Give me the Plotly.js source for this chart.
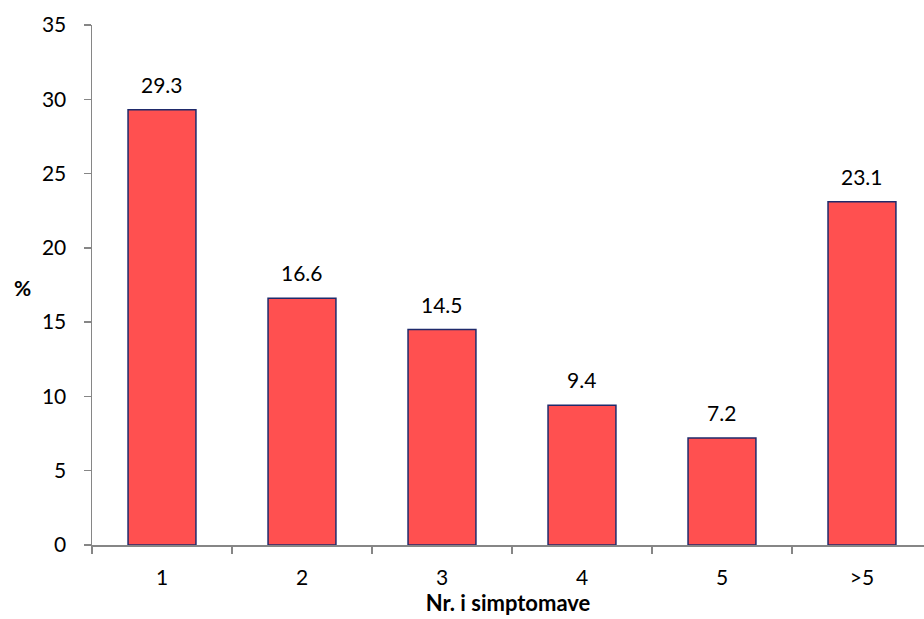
<!DOCTYPE html>
<html><head><meta charset="utf-8">
<script src="https://cdn.plot.ly/plotly-3.0.1.min.js"></script>
<style>html,body{margin:0;padding:0;background:#fff;}#chart{width:924px;height:619px;}</style>
</head><body><div id="chart"></div>
<script>
const categories = ["1", "2", "3", "4", "5", ">5"];
const values = [29.3, 16.6, 14.5, 9.4, 7.2, 23.1];
const valueLabels = ["29.3", "16.6", "14.5", "9.4", "7.2", "23.1"];
const yTicks = [0, 5, 10, 15, 20, 25, 30, 35];
const xTitle = "Nr. i simptomave";
const yTitle = "%";

const font = "Lato, 'Open Sans', sans-serif";
const trace = {
  type: "bar",
  x: categories,
  y: values,
  marker: {color: "#FF5050", line: {color: "#1F2A6B", width: 1.5}},
  width: 0.485,
  hoverinfo: "none"
};
// on a category axis, annotation x is the category index
const annotations = categories.map((c, i) => ({
  x: i, y: values[i], xref: "x", yref: "y",
  text: valueLabels[i], showarrow: false,
  yanchor: "bottom", yshift: 11,
  font: {family: font, size: 21, color: "#000"}
}));
// upright y-axis title
annotations.push({
  x: 22, y: 287, xref: "paper", yref: "paper",
  text: "<b>" + yTitle + "</b>", showarrow: false,
  xanchor: "center", yanchor: "middle",
  font: {family: font, size: 21, color: "#000"}
});
annotations[annotations.length - 1].xref = "paper";
const layout = {
  width: 924, height: 619,
  margin: {l: 92, r: 0, t: 25, b: 74},
  paper_bgcolor: "#fff", plot_bgcolor: "#fff",
  showlegend: false,
  font: {family: font, size: 21, color: "#000"},
  annotations: annotations,
  xaxis: {
    type: "category",
    range: [-0.5, 5.443],
    showline: true, linecolor: "#868686", linewidth: 1.5,
    ticks: "outside", ticklen: 7, tickcolor: "#868686", tickwidth: 1.5,
    tickson: "boundaries",
    ticklabelstandoff: 13,
    showgrid: false, zeroline: false,
    tickfont: {family: font, size: 21, color: "#000"},
    title: {text: "<b>" + xTitle + "</b>", font: {family: font, size: 22, color: "#000"}, standoff: 6}
  },
  yaxis: {
    range: [0, 35],
    tickvals: yTicks,
    showline: true, linecolor: "#868686", linewidth: 1.5,
    ticks: "outside", ticklen: 7, tickcolor: "#868686", tickwidth: 1.5,
    ticklabelstandoff: 13,
    showgrid: false, zeroline: false,
    tickfont: {family: font, size: 21, color: "#000"}
  }
};
// convert pixel position of the y title into paper coordinates
const pw = 924 - 92, ph = 619 - 25 - 74;
const yt = annotations[annotations.length - 1];
yt.x = (22 - 92) / pw;
yt.y = (619 - 74 - 287) / ph;
Plotly.newPlot("chart", [trace], layout, {displayModeBar: false, staticPlot: true});
</script></body></html>
